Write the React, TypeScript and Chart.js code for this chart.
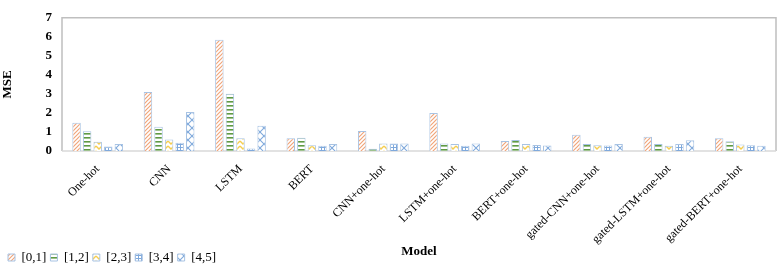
import React, { useEffect, useRef } from "react";
import { Chart, registerables } from "chart.js";

Chart.register(...registerables);

const categories = [
  "One-hot",
  "CNN",
  "LSTM",
  "BERT",
  "CNN+one-hot",
  "LSTM+one-hot",
  "BERT+one-hot",
  "gated-CNN+one-hot",
  "gated-LSTM+one-hot",
  "gated-BERT+one-hot",
];
const seriesNames = ["[0,1]", "[1,2]", "[2,3]", "[3,4]", "[4,5]"];
const s01 = [1.49, 3.1, 5.85, 0.67, 1.05, 2.0, 0.53, 0.85, 0.75, 0.67];
const s12 = [1.04, 1.28, 3.01, 0.7, 0.12, 0.4, 0.58, 0.37, 0.37, 0.51];
const s23 = [0.48, 0.61, 0.67, 0.3, 0.4, 0.37, 0.37, 0.3, 0.27, 0.34];
const s34 = [0.24, 0.43, 0.13, 0.27, 0.4, 0.27, 0.32, 0.29, 0.37, 0.3];
const s45 = [0.37, 2.05, 1.33, 0.37, 0.4, 0.4, 0.29, 0.37, 0.56, 0.27];
const yTicks = [0, 1, 2, 3, 4, 5, 6, 7];

const FONT = "'Liberation Serif', 'Times New Roman', serif";

function makePattern(kind: number): CanvasPattern | string {
  const c = document.createElement("canvas");
  const ctx = c.getContext("2d")!;
  if (kind === 0) {
    c.width = 4; c.height = 4;
    ctx.fillStyle = "#fff"; ctx.fillRect(0, 0, 4, 4);
    ctx.strokeStyle = "#f1a57a"; ctx.lineWidth = 1.2;
    ctx.beginPath();
    ctx.moveTo(-1, 5); ctx.lineTo(5, -1);
    ctx.moveTo(-1, 1); ctx.lineTo(1, -1);
    ctx.moveTo(3, 5); ctx.lineTo(5, 3);
    ctx.stroke();
  } else if (kind === 1) {
    c.width = 4; c.height = 4;
    ctx.fillStyle = "#fff"; ctx.fillRect(0, 0, 4, 4);
    ctx.fillStyle = "#5f9a44"; ctx.fillRect(0, 1, 4, 1.6);
  } else if (kind === 2) {
    c.width = 6; c.height = 5;
    ctx.fillStyle = "#fff"; ctx.fillRect(0, 0, 6, 5);
    ctx.strokeStyle = "#f5cd4f"; ctx.lineWidth = 1.4;
    ctx.beginPath();
    ctx.moveTo(0, 1); ctx.lineTo(3, 4); ctx.lineTo(6, 1);
    ctx.stroke();
  } else if (kind === 3) {
    c.width = 3; c.height = 3;
    ctx.fillStyle = "#fff"; ctx.fillRect(0, 0, 3, 3);
    ctx.fillStyle = "#7fa9dc"; ctx.fillRect(0, 0, 3, 1); ctx.fillRect(0, 0, 1, 3);
  } else {
    c.width = 8; c.height = 8;
    ctx.fillStyle = "#fff"; ctx.fillRect(0, 0, 8, 8);
    ctx.strokeStyle = "#7fa9dc"; ctx.lineWidth = 1.1;
    ctx.beginPath();
    ctx.moveTo(0, 0); ctx.lineTo(8, 8);
    ctx.moveTo(8, 0); ctx.lineTo(0, 8);
    ctx.stroke();
  }
  const p = ctx.createPattern(c, "repeat");
  return p || "#fff";
}

const frame = {
  id: "frame",
  beforeDatasetsDraw(chart: any) {
    const { ctx, chartArea: a } = chart;
    ctx.save();
    ctx.strokeStyle = "#bfbfbf";
    ctx.lineWidth = 1.5;
    ctx.beginPath();
    ctx.moveTo(a.left, a.bottom);
    ctx.lineTo(a.left, a.top);
    ctx.lineTo(a.right, a.top);
    ctx.lineTo(a.right, a.bottom);
    ctx.stroke();
    ctx.strokeStyle = "#d9d9d9";
    ctx.beginPath();
    ctx.moveTo(a.left, a.bottom);
    ctx.lineTo(a.right, a.bottom);
    ctx.stroke();
    ctx.restore();
  },
};

export default function App() {
  const ref = useRef<HTMLCanvasElement>(null);
  useEffect(() => {
    document.body.style.margin = "0";
    const all = [s01, s12, s23, s34, s45];
    const chart = new Chart(ref.current!, {
      type: "bar",
      data: {
        labels: categories,
        datasets: all.map((d, i) => ({
          label: seriesNames[i],
          data: d,
          backgroundColor: makePattern(i) as any,
          borderColor: "#a8c3e3",
          borderWidth: 1,
          barPercentage: 0.8,
          categoryPercentage: 0.74,
        })),
      },
      options: {
        animation: false,
        responsive: true,
        maintainAspectRatio: false,
        layout: { padding: { top: -3, right: 2, left: 4, bottom: -9 } },
        plugins: {
          tooltip: { enabled: false },
          legend: {
            position: "bottom",
            align: "start",
            labels: {
              boxWidth: 7,
              boxHeight: 7,
              padding: 4,
              color: "#000",
              font: { family: FONT, size: 13 },
            },
          },
        },
        scales: {
          x: {
            grid: { display: false, drawTicks: false },
            border: { display: false },
            afterFit: (s: any) => {
              s.height = 96;
            },
            ticks: {
              minRotation: 45,
              maxRotation: 45,
              autoSkip: false,
              color: "#000",
              padding: 11,
              font: { family: FONT, size: 12 },
            },
            title: {
              display: true,
              text: "Model",
              color: "#000",
              font: { family: FONT, size: 13, weight: "bold" },
              padding: { top: 0, bottom: -12.5 },
            },
          },
          y: {
            min: 0,
            max: 7,
            afterBuildTicks: (s: any) => {
              s.ticks = yTicks.map((v) => ({ value: v }));
            },
            afterFit: (s: any) => {
              s.width = 58;
            },
            grid: { display: false, drawTicks: false },
            border: { display: false },
            ticks: {
              autoSkip: false,
              color: "#000",
              padding: 10,
              font: { family: FONT, size: 13, weight: "bold" },
            },
            title: {
              display: true,
              text: "MSE",
              color: "#000",
              font: { family: FONT, size: 13, weight: "bold" },
              padding: { top: -4, bottom: 0 },
            },
          },
        },
      },
      plugins: [frame],
    });
    return () => chart.destroy();
  }, []);
  return (
    <div style={{ width: 778, height: 265, position: "relative" }}>
      <canvas ref={ref} />
    </div>
  );
}
